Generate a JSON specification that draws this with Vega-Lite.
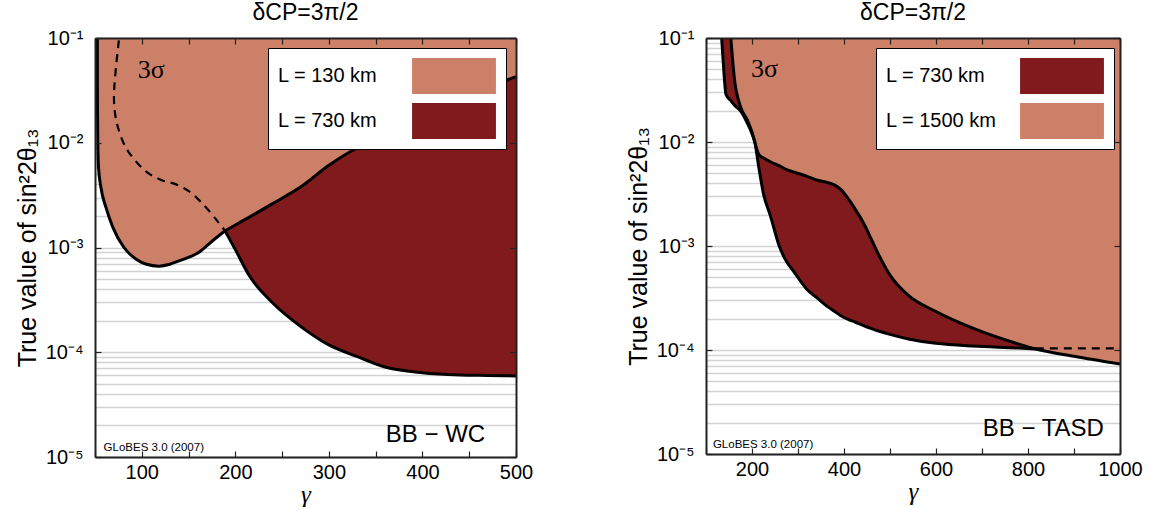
{
  "$schema": "https://vega.github.io/schema/vega-lite/v6.json",
  "background": "white",
  "padding": {"left": 15, "top": 2, "right": 5, "bottom": 0},
  "config": {
    "view": {"stroke": null},
    "font": "Liberation Sans",
    "title": {"font": "Liberation Sans", "fontSize": 23, "fontWeight": "normal", "color": "#000", "anchor": "middle", "offset": 3},
    "legend": {
      "orient": "none", "title": null, "fillColor": "white", "strokeColor": "#000", "padding": 10,
      "symbolType": "M-2.33,-1L2.33,-1L2.33,1L-2.33,1Z", "symbolSize": 1296, "symbolStrokeWidth": 0, "symbolOpacity": 1,
      "labelFont": "Liberation Sans", "labelFontSize": 20, "labelColor": "#000", "labelOffset": -194, "symbolOffset": 158,
      "rowPadding": 9, "labelLimit": 300
    }
  },
  "spacing": 93,
  "resolve": {"scale": {"x": "independent", "y": "independent", "color": "independent"}, "legend": {"color": "independent"}},
  "datasets": {
    "l_light": [
      {"g": 52.5, "lo": 0.1, "hi": 0.1, "series": "L = 130 km"},
      {"g": 52.6, "lo": 0.02512, "hi": 0.1, "series": "L = 130 km"},
      {"g": 53.0, "lo": 0.01, "hi": 0.1, "series": "L = 130 km"},
      {"g": 53.8, "lo": 0.005754, "hi": 0.1, "series": "L = 130 km"},
      {"g": 56.4, "lo": 0.003715, "hi": 0.1, "series": "L = 130 km"},
      {"g": 61.8, "lo": 0.002399, "hi": 0.1, "series": "L = 130 km"},
      {"g": 69.2, "lo": 0.001549, "hi": 0.1, "series": "L = 130 km"},
      {"g": 81, "lo": 0.001, "hi": 0.1, "series": "L = 130 km"},
      {"g": 94.4, "lo": 0.000769, "hi": 0.1, "series": "L = 130 km"},
      {"g": 105, "lo": 0.000692, "hi": 0.1, "series": "L = 130 km"},
      {"g": 118.4, "lo": 0.000664, "hi": 0.1, "series": "L = 130 km"},
      {"g": 130, "lo": 0.000692, "hi": 0.1, "series": "L = 130 km"},
      {"g": 139.8, "lo": 0.000745, "hi": 0.1, "series": "L = 130 km"},
      {"g": 161.2, "lo": 0.000902, "hi": 0.1, "series": "L = 130 km"},
      {"g": 176.1, "lo": 0.001167, "hi": 0.1, "series": "L = 130 km"},
      {"g": 189, "lo": 0.001445, "hi": 0.1, "series": "L = 130 km"},
      {"g": 200, "lo": 0.001641, "hi": 0.1, "series": "L = 130 km"},
      {"g": 215, "lo": 0.00195, "hi": 0.1, "series": "L = 130 km"},
      {"g": 240, "lo": 0.00263, "hi": 0.1, "series": "L = 130 km"},
      {"g": 270, "lo": 0.0038, "hi": 0.1, "series": "L = 130 km"},
      {"g": 300, "lo": 0.0061, "hi": 0.1, "series": "L = 130 km"},
      {"g": 330, "lo": 0.00891, "hi": 0.1, "series": "L = 130 km"},
      {"g": 360, "lo": 0.01161, "hi": 0.1, "series": "L = 130 km"},
      {"g": 400, "lo": 0.01778, "hi": 0.1, "series": "L = 130 km"},
      {"g": 440, "lo": 0.026, "hi": 0.1, "series": "L = 130 km"},
      {"g": 470, "lo": 0.0339, "hi": 0.1, "series": "L = 130 km"},
      {"g": 500, "lo": 0.04266, "hi": 0.1, "series": "L = 130 km"}
    ],
    "l_dark": [
      {"g": 189, "lo": 0.001445, "hi": 0.001445, "series": "L = 730 km"},
      {"g": 200, "lo": 0.000955, "hi": 0.001641, "series": "L = 730 km"},
      {"g": 215, "lo": 0.000537, "hi": 0.00195, "series": "L = 730 km"},
      {"g": 240, "lo": 0.000295, "hi": 0.00263, "series": "L = 730 km"},
      {"g": 270, "lo": 0.0001758, "hi": 0.0038, "series": "L = 730 km"},
      {"g": 300, "lo": 0.0001175, "hi": 0.0061, "series": "L = 730 km"},
      {"g": 330, "lo": 0.0000912, "hi": 0.00891, "series": "L = 730 km"},
      {"g": 360, "lo": 0.0000724, "hi": 0.01161, "series": "L = 730 km"},
      {"g": 400, "lo": 0.0000638, "hi": 0.01778, "series": "L = 730 km"},
      {"g": 440, "lo": 0.0000607, "hi": 0.026, "series": "L = 730 km"},
      {"g": 470, "lo": 0.00006, "hi": 0.0339, "series": "L = 730 km"},
      {"g": 500, "lo": 0.0000594, "hi": 0.04266, "series": "L = 730 km"}
    ],
    "l_lines": [
      {"curve": "light", "g": 52.5, "y": 0.1},
      {"curve": "light", "g": 52.6, "y": 0.02512},
      {"curve": "light", "g": 53.0, "y": 0.01},
      {"curve": "light", "g": 53.8, "y": 0.005754},
      {"curve": "light", "g": 56.4, "y": 0.003715},
      {"curve": "light", "g": 61.8, "y": 0.002399},
      {"curve": "light", "g": 69.2, "y": 0.001549},
      {"curve": "light", "g": 81, "y": 0.001},
      {"curve": "light", "g": 94.4, "y": 0.000769},
      {"curve": "light", "g": 105, "y": 0.000692},
      {"curve": "light", "g": 118.4, "y": 0.000664},
      {"curve": "light", "g": 130, "y": 0.000692},
      {"curve": "light", "g": 139.8, "y": 0.000745},
      {"curve": "light", "g": 161.2, "y": 0.000902},
      {"curve": "light", "g": 176.1, "y": 0.001167},
      {"curve": "light", "g": 189, "y": 0.001445},
      {"curve": "lower", "g": 189, "y": 0.001445},
      {"curve": "lower", "g": 200, "y": 0.000955},
      {"curve": "lower", "g": 215, "y": 0.000537},
      {"curve": "lower", "g": 240, "y": 0.000295},
      {"curve": "lower", "g": 270, "y": 0.0001758},
      {"curve": "lower", "g": 300, "y": 0.0001175},
      {"curve": "lower", "g": 330, "y": 0.0000912},
      {"curve": "lower", "g": 360, "y": 0.0000724},
      {"curve": "lower", "g": 400, "y": 0.0000638},
      {"curve": "lower", "g": 440, "y": 0.0000607},
      {"curve": "lower", "g": 470, "y": 0.00006},
      {"curve": "lower", "g": 500, "y": 0.0000594},
      {"curve": "upper", "g": 189, "y": 0.001445},
      {"curve": "upper", "g": 200, "y": 0.001641},
      {"curve": "upper", "g": 215, "y": 0.00195},
      {"curve": "upper", "g": 240, "y": 0.00263},
      {"curve": "upper", "g": 270, "y": 0.0038},
      {"curve": "upper", "g": 300, "y": 0.0061},
      {"curve": "upper", "g": 330, "y": 0.00891},
      {"curve": "upper", "g": 360, "y": 0.01161},
      {"curve": "upper", "g": 400, "y": 0.01778},
      {"curve": "upper", "g": 440, "y": 0.026},
      {"curve": "upper", "g": 470, "y": 0.0339},
      {"curve": "upper", "g": 500, "y": 0.04266}
    ],
    "l_dash": [
      {"o": 1, "g": 75.5, "y": 0.095},
      {"o": 2, "g": 71.4, "y": 0.0416},
      {"o": 3, "g": 70.3, "y": 0.0251},
      {"o": 4, "g": 73.5, "y": 0.01517},
      {"o": 5, "g": 83.1, "y": 0.00895},
      {"o": 6, "g": 96, "y": 0.00631},
      {"o": 7, "g": 107.7, "y": 0.00507},
      {"o": 8, "g": 122.7, "y": 0.004345},
      {"o": 9, "g": 134.4, "y": 0.004074},
      {"o": 10, "g": 149.4, "y": 0.00349},
      {"o": 11, "g": 165, "y": 0.002624},
      {"o": 12, "g": 180.4, "y": 0.001807},
      {"o": 13, "g": 189, "y": 0.001445}
    ],
    "l_sigma": [{"g": 110, "y": 0.049, "label": "3σ"}],
    "l_bb": [{"g": 467, "y": 0.0000139, "label": "BB − WC"}],
    "l_globes": [{"g": 59.2, "y": 0.0000115, "label": "GLoBES 3.0 (2007)"}],
    "r_light": [
      {"g": 154, "lo": 0.1, "hi": 0.1, "series": "L = 1500 km"},
      {"g": 161.5, "lo": 0.0415, "hi": 0.1, "series": "L = 1500 km"},
      {"g": 175, "lo": 0.02188, "hi": 0.1, "series": "L = 1500 km"},
      {"g": 190, "lo": 0.01622, "hi": 0.1, "series": "L = 1500 km"},
      {"g": 200, "lo": 0.01245, "hi": 0.1, "series": "L = 1500 km"},
      {"g": 206, "lo": 0.01, "hi": 0.1, "series": "L = 1500 km"},
      {"g": 215, "lo": 0.007586, "hi": 0.1, "series": "L = 1500 km"},
      {"g": 225, "lo": 0.007, "hi": 0.1, "series": "L = 1500 km"},
      {"g": 240, "lo": 0.006457, "hi": 0.1, "series": "L = 1500 km"},
      {"g": 260, "lo": 0.005888, "hi": 0.1, "series": "L = 1500 km"},
      {"g": 275, "lo": 0.00543, "hi": 0.1, "series": "L = 1500 km"},
      {"g": 290, "lo": 0.005152, "hi": 0.1, "series": "L = 1500 km"},
      {"g": 320, "lo": 0.004677, "hi": 0.1, "series": "L = 1500 km"},
      {"g": 340, "lo": 0.004315, "hi": 0.1, "series": "L = 1500 km"},
      {"g": 365, "lo": 0.004074, "hi": 0.1, "series": "L = 1500 km"},
      {"g": 380, "lo": 0.003846, "hi": 0.1, "series": "L = 1500 km"},
      {"g": 395, "lo": 0.003428, "hi": 0.1, "series": "L = 1500 km"},
      {"g": 410, "lo": 0.002818, "hi": 0.1, "series": "L = 1500 km"},
      {"g": 425, "lo": 0.002239, "hi": 0.1, "series": "L = 1500 km"},
      {"g": 445, "lo": 0.001585, "hi": 0.1, "series": "L = 1500 km"},
      {"g": 460, "lo": 0.001148, "hi": 0.1, "series": "L = 1500 km"},
      {"g": 475, "lo": 0.000832, "hi": 0.1, "series": "L = 1500 km"},
      {"g": 500, "lo": 0.000525, "hi": 0.1, "series": "L = 1500 km"},
      {"g": 540, "lo": 0.000335, "hi": 0.1, "series": "L = 1500 km"},
      {"g": 600, "lo": 0.0002344, "hi": 0.1, "series": "L = 1500 km"},
      {"g": 680, "lo": 0.0001622, "hi": 0.1, "series": "L = 1500 km"},
      {"g": 780, "lo": 0.000114, "hi": 0.1, "series": "L = 1500 km"},
      {"g": 817, "lo": 0.0001023, "hi": 0.1, "series": "L = 1500 km"},
      {"g": 900, "lo": 0.0000871, "hi": 0.1, "series": "L = 1500 km"},
      {"g": 1000, "lo": 0.0000733, "hi": 0.1, "series": "L = 1500 km"}
    ],
    "r_dark": [
      {"g": 134, "lo": 0.1, "hi": 0.1, "series": "L = 730 km"},
      {"g": 137, "lo": 0.0631, "hi": 0.1, "series": "L = 730 km"},
      {"g": 139.8, "lo": 0.0415, "hi": 0.1, "series": "L = 730 km"},
      {"g": 143.5, "lo": 0.02864, "hi": 0.1, "series": "L = 730 km"},
      {"g": 154, "lo": 0.025, "hi": 0.1, "series": "L = 730 km"},
      {"g": 161.5, "lo": 0.0227, "hi": 0.0415, "series": "L = 730 km"},
      {"g": 175, "lo": 0.01995, "hi": 0.02188, "series": "L = 730 km"},
      {"g": 190, "lo": 0.01514, "hi": 0.01622, "series": "L = 730 km"},
      {"g": 200, "lo": 0.01202, "hi": 0.01245, "series": "L = 730 km"},
      {"g": 206, "lo": 0.01, "hi": 0.01, "series": "L = 730 km"},
      {"g": 215, "lo": 0.005623, "hi": 0.007586, "series": "L = 730 km"},
      {"g": 225, "lo": 0.003162, "hi": 0.007, "series": "L = 730 km"},
      {"g": 240, "lo": 0.00195, "hi": 0.006457, "series": "L = 730 km"},
      {"g": 260, "lo": 0.000977, "hi": 0.005888, "series": "L = 730 km"},
      {"g": 275, "lo": 0.000708, "hi": 0.00543, "series": "L = 730 km"},
      {"g": 290, "lo": 0.000575, "hi": 0.005152, "series": "L = 730 km"},
      {"g": 320, "lo": 0.00038, "hi": 0.004677, "series": "L = 730 km"},
      {"g": 340, "lo": 0.000321, "hi": 0.004315, "series": "L = 730 km"},
      {"g": 365, "lo": 0.00026, "hi": 0.004074, "series": "L = 730 km"},
      {"g": 380, "lo": 0.0002344, "hi": 0.003846, "series": "L = 730 km"},
      {"g": 395, "lo": 0.0002113, "hi": 0.003428, "series": "L = 730 km"},
      {"g": 410, "lo": 0.0001963, "hi": 0.002818, "series": "L = 730 km"},
      {"g": 425, "lo": 0.0001849, "hi": 0.002239, "series": "L = 730 km"},
      {"g": 445, "lo": 0.00017, "hi": 0.001585, "series": "L = 730 km"},
      {"g": 460, "lo": 0.0001607, "hi": 0.001148, "series": "L = 730 km"},
      {"g": 475, "lo": 0.0001524, "hi": 0.000832, "series": "L = 730 km"},
      {"g": 500, "lo": 0.0001413, "hi": 0.000525, "series": "L = 730 km"},
      {"g": 540, "lo": 0.0001276, "hi": 0.000335, "series": "L = 730 km"},
      {"g": 600, "lo": 0.0001161, "hi": 0.0002344, "series": "L = 730 km"},
      {"g": 680, "lo": 0.0001091, "hi": 0.0001622, "series": "L = 730 km"},
      {"g": 780, "lo": 0.0001045, "hi": 0.000114, "series": "L = 730 km"},
      {"g": 817, "lo": 0.0001023, "hi": 0.0001023, "series": "L = 730 km"}
    ],
    "r_lines": [
      {"curve": "outer", "g": 134, "y": 0.1},
      {"curve": "outer", "g": 137, "y": 0.0631},
      {"curve": "outer", "g": 139.8, "y": 0.0415},
      {"curve": "outer", "g": 143.5, "y": 0.02864},
      {"curve": "outer", "g": 154, "y": 0.025},
      {"curve": "outer", "g": 161.5, "y": 0.0227},
      {"curve": "outer", "g": 175, "y": 0.01995},
      {"curve": "outer", "g": 190, "y": 0.01514},
      {"curve": "outer", "g": 200, "y": 0.01202},
      {"curve": "outer", "g": 206, "y": 0.01},
      {"curve": "outer", "g": 215, "y": 0.005623},
      {"curve": "outer", "g": 225, "y": 0.003162},
      {"curve": "outer", "g": 240, "y": 0.00195},
      {"curve": "outer", "g": 260, "y": 0.000977},
      {"curve": "outer", "g": 275, "y": 0.000708},
      {"curve": "outer", "g": 290, "y": 0.000575},
      {"curve": "outer", "g": 320, "y": 0.00038},
      {"curve": "outer", "g": 340, "y": 0.000321},
      {"curve": "outer", "g": 365, "y": 0.00026},
      {"curve": "outer", "g": 380, "y": 0.0002344},
      {"curve": "outer", "g": 395, "y": 0.0002113},
      {"curve": "outer", "g": 410, "y": 0.0001963},
      {"curve": "outer", "g": 425, "y": 0.0001849},
      {"curve": "outer", "g": 445, "y": 0.00017},
      {"curve": "outer", "g": 460, "y": 0.0001607},
      {"curve": "outer", "g": 475, "y": 0.0001524},
      {"curve": "outer", "g": 500, "y": 0.0001413},
      {"curve": "outer", "g": 540, "y": 0.0001276},
      {"curve": "outer", "g": 600, "y": 0.0001161},
      {"curve": "outer", "g": 680, "y": 0.0001091},
      {"curve": "outer", "g": 780, "y": 0.0001045},
      {"curve": "outer", "g": 817, "y": 0.0001023},
      {"curve": "inner", "g": 154, "y": 0.1},
      {"curve": "inner", "g": 161.5, "y": 0.0415},
      {"curve": "inner", "g": 175, "y": 0.02188},
      {"curve": "inner", "g": 190, "y": 0.01622},
      {"curve": "inner", "g": 200, "y": 0.01245},
      {"curve": "inner", "g": 206, "y": 0.01},
      {"curve": "inner", "g": 215, "y": 0.007586},
      {"curve": "inner", "g": 225, "y": 0.007},
      {"curve": "inner", "g": 240, "y": 0.006457},
      {"curve": "inner", "g": 260, "y": 0.005888},
      {"curve": "inner", "g": 275, "y": 0.00543},
      {"curve": "inner", "g": 290, "y": 0.005152},
      {"curve": "inner", "g": 320, "y": 0.004677},
      {"curve": "inner", "g": 340, "y": 0.004315},
      {"curve": "inner", "g": 365, "y": 0.004074},
      {"curve": "inner", "g": 380, "y": 0.003846},
      {"curve": "inner", "g": 395, "y": 0.003428},
      {"curve": "inner", "g": 410, "y": 0.002818},
      {"curve": "inner", "g": 425, "y": 0.002239},
      {"curve": "inner", "g": 445, "y": 0.001585},
      {"curve": "inner", "g": 460, "y": 0.001148},
      {"curve": "inner", "g": 475, "y": 0.000832},
      {"curve": "inner", "g": 500, "y": 0.000525},
      {"curve": "inner", "g": 540, "y": 0.000335},
      {"curve": "inner", "g": 600, "y": 0.0002344},
      {"curve": "inner", "g": 680, "y": 0.0001622},
      {"curve": "inner", "g": 780, "y": 0.000114},
      {"curve": "inner", "g": 817, "y": 0.0001023},
      {"curve": "inner", "g": 900, "y": 0.0000871},
      {"curve": "inner", "g": 1000, "y": 0.0000733}
    ],
    "r_dash": [
      {"o": 1, "g": 817, "y": 0.0001035},
      {"o": 2, "g": 1000, "y": 0.0001035}
    ],
    "r_sigma": [{"g": 227, "y": 0.0507, "label": "3σ"}],
    "r_bb": [{"g": 965, "y": 0.0000148, "label": "BB − TASD"}],
    "r_globes": [{"g": 115, "y": 0.0000113, "label": "GLoBES 3.0 (2007)"}]
  },
  "hconcat": [
    {
      "width": 421,
      "height": 419,
      "title": {"text": "δCP=3π/2"},
      "resolve": {"axis": {"x": "independent", "y": "independent"}},
      "layer": [
        {
          "data": {"name": "l_light"},
          "mark": {"type": "area", "clip": true, "opacity": 1, "interpolate": "monotone"},
          "encoding": {
            "x": {"field": "g", "type": "quantitative", "scale": {"domain": [50, 500], "nice": false, "zero": false}, "axis": null},
            "y": {"field": "lo", "type": "quantitative", "scale": {"type": "log", "domain": [0.00001, 0.1], "nice": false},
              "axis": {"orient": "left", "values": [0.00001,0.00002,0.00003,0.00004,0.00005,0.00006,0.00007,0.00008,0.00009,0.0001,0.0002,0.0003,0.0004,0.0005,0.0006,0.0007,0.0008,0.0009,0.001,0.002,0.003,0.004,0.005,0.006,0.007,0.008,0.009,0.01,0.02,0.03,0.04,0.05,0.06,0.07,0.08,0.09,0.1],
                "grid": true, "gridColor": "#d2d2d2", "gridWidth": 1.5, "labels": false, "ticks": false, "domain": false, "title": null, "zindex": 0}},
            "y2": {"field": "hi"},
            "color": {"field": "series", "type": "nominal", "scale": {"domain": ["L = 130 km", "L = 730 km"], "range": ["#CD8068", "#801A1D"]},
              "legend": {"legendX": 173, "legendY": 10}}
          }
        },
        {
          "data": {"name": "l_dark"},
          "mark": {"type": "area", "clip": true, "opacity": 1, "interpolate": "monotone"},
          "encoding": {
            "x": {"field": "g", "type": "quantitative", "scale": {"domain": [50, 500], "nice": false, "zero": false}, "axis": null},
            "y": {"field": "lo", "type": "quantitative", "scale": {"type": "log", "domain": [0.00001, 0.1], "nice": false}, "axis": null},
            "y2": {"field": "hi"},
            "color": {"field": "series", "type": "nominal"}
          }
        },
        {
          "data": {"name": "l_lines"},
          "mark": {"type": "line", "color": "#000", "strokeWidth": 3, "clip": true, "interpolate": "monotone"},
          "encoding": {
            "x": {"field": "g", "type": "quantitative", "scale": {"domain": [50, 500], "nice": false, "zero": false}, "axis": null},
            "y": {"field": "y", "type": "quantitative", "scale": {"type": "log", "domain": [0.00001, 0.1], "nice": false}, "axis": null},
            "detail": {"field": "curve", "type": "nominal"}
          }
        },
        {
          "data": {"name": "l_dash"},
          "mark": {"type": "line", "color": "#000", "strokeWidth": 2.2, "strokeDash": [8, 6], "clip": true, "interpolate": "catmull-rom"},
          "encoding": {
            "x": {"field": "g", "type": "quantitative", "scale": {"domain": [50, 500], "nice": false, "zero": false}, "axis": null},
            "y": {"field": "y", "type": "quantitative", "scale": {"type": "log", "domain": [0.00001, 0.1], "nice": false}, "axis": null},
            "order": {"field": "o", "type": "quantitative"}
          }
        },
        {
          "data": {"name": "l_sigma"},
          "mark": {"type": "text", "font": "Liberation Serif", "fontSize": 26, "align": "center", "baseline": "middle", "color": "#000"},
          "encoding": {
            "x": {"field": "g", "type": "quantitative", "scale": {"domain": [50, 500], "nice": false, "zero": false}, "axis": null},
            "y": {"field": "y", "type": "quantitative", "scale": {"type": "log", "domain": [0.00001, 0.1], "nice": false}, "axis": null},
            "text": {"field": "label"}
          }
        },
        {
          "data": {"name": "l_bb"},
          "mark": {"type": "text", "font": "Liberation Sans", "fontSize": 24, "align": "right", "baseline": "alphabetic", "color": "#000"},
          "encoding": {
            "x": {"field": "g", "type": "quantitative", "scale": {"domain": [50, 500], "nice": false, "zero": false},
              "axis": {"orient": "bottom", "values": [50,100,150,200,250,300,350,400,450,500], "labelExpr": "datum.value % 100 === 0 ? format(datum.value, 'd') : ''",
                "grid": false, "labelFont": "Liberation Sans", "labelFontSize": 20, "labelColor": "#000", "labelPadding": 11, "labelFlush": false, "labelOverlap": false,
                "tickSize": -6, "tickColor": "#222", "tickWidth": 1.2, "domain": true, "domainColor": "#222", "domainWidth": 2,
                "title": "γ", "titleFont": "Liberation Serif", "titleFontStyle": "italic", "titleFontSize": 25, "titleFontWeight": "normal", "titleColor": "#000", "titlePadding": 0, "zindex": 1}},
            "y": {"field": "y", "type": "quantitative", "scale": {"type": "log", "domain": [0.00001, 0.1], "nice": false},
              "axis": {"orient": "left", "values": [0.00001, 0.0001, 0.001, 0.01, 0.1],
                "labelExpr": "datum.value > 0.05 ? '10⁻¹' : datum.value > 0.005 ? '10⁻²' : datum.value > 0.0005 ? '10⁻³' : datum.value > 0.00005 ? '10⁻⁴' : '10⁻⁵'",
                "grid": false, "labelFont": "Liberation Sans", "labelFontSize": 20, "labelColor": "#000", "labelPadding": 18, "labelFlush": false, "labelOverlap": false,
                "tickSize": -6, "tickColor": "#222", "tickWidth": 1.2, "domain": true, "domainColor": "#222", "domainWidth": 2,
                "title": "True value of sin²2θ₁₃", "titleFont": "Liberation Sans", "titleFontSize": 25, "titleFontWeight": "normal", "titleColor": "#000", "titlePadding": 5, "zindex": 1}},
            "text": {"field": "label"}
          }
        },
        {
          "data": {"name": "l_globes"},
          "mark": {"type": "text", "font": "Liberation Sans", "fontSize": 11.5, "align": "left", "baseline": "alphabetic", "color": "#000"},
          "encoding": {
            "x": {"field": "g", "type": "quantitative", "scale": {"domain": [50, 500], "nice": false, "zero": false},
              "axis": {"orient": "top", "values": [50,100,150,200,250,300,350,400,450,500], "labels": false, "grid": false,
                "tickSize": -6, "tickColor": "#222", "tickWidth": 1.2, "domain": true, "domainColor": "#222", "domainWidth": 2, "title": null, "zindex": 1}},
            "y": {"field": "y", "type": "quantitative", "scale": {"type": "log", "domain": [0.00001, 0.1], "nice": false},
              "axis": {"orient": "right", "values": [0.00001, 0.0001, 0.001, 0.01, 0.1], "labels": false, "grid": false,
                "tickSize": -6, "tickColor": "#222", "tickWidth": 1.2, "domain": true, "domainColor": "#222", "domainWidth": 2, "title": null, "zindex": 1}},
            "text": {"field": "label"}
          }
        }
      ]
    },
    {
      "width": 414,
      "height": 416,
      "title": {"text": "δCP=3π/2"},
      "resolve": {"axis": {"x": "independent", "y": "independent"}},
      "layer": [
        {
          "data": {"name": "r_light"},
          "mark": {"type": "area", "clip": true, "opacity": 1, "interpolate": "monotone"},
          "encoding": {
            "x": {"field": "g", "type": "quantitative", "scale": {"domain": [100, 1000], "nice": false, "zero": false}, "axis": null},
            "y": {"field": "lo", "type": "quantitative", "scale": {"type": "log", "domain": [0.00001, 0.1], "nice": false},
              "axis": {"orient": "left", "values": [0.00001,0.00002,0.00003,0.00004,0.00005,0.00006,0.00007,0.00008,0.00009,0.0001,0.0002,0.0003,0.0004,0.0005,0.0006,0.0007,0.0008,0.0009,0.001,0.002,0.003,0.004,0.005,0.006,0.007,0.008,0.009,0.01,0.02,0.03,0.04,0.05,0.06,0.07,0.08,0.09,0.1],
                "grid": true, "gridColor": "#d2d2d2", "gridWidth": 1.5, "labels": false, "ticks": false, "domain": false, "title": null, "zindex": 0}},
            "y2": {"field": "hi"},
            "color": {"field": "series", "type": "nominal", "scale": {"domain": ["L = 730 km", "L = 1500 km"], "range": ["#801A1D", "#CD8068"]},
              "legend": {"legendX": 170, "legendY": 10}}
          }
        },
        {
          "data": {"name": "r_dark"},
          "mark": {"type": "area", "clip": true, "opacity": 1, "interpolate": "monotone"},
          "encoding": {
            "x": {"field": "g", "type": "quantitative", "scale": {"domain": [100, 1000], "nice": false, "zero": false}, "axis": null},
            "y": {"field": "lo", "type": "quantitative", "scale": {"type": "log", "domain": [0.00001, 0.1], "nice": false}, "axis": null},
            "y2": {"field": "hi"},
            "color": {"field": "series", "type": "nominal"}
          }
        },
        {
          "data": {"name": "r_lines"},
          "mark": {"type": "line", "color": "#000", "strokeWidth": 3, "clip": true, "interpolate": "monotone"},
          "encoding": {
            "x": {"field": "g", "type": "quantitative", "scale": {"domain": [100, 1000], "nice": false, "zero": false}, "axis": null},
            "y": {"field": "y", "type": "quantitative", "scale": {"type": "log", "domain": [0.00001, 0.1], "nice": false}, "axis": null},
            "detail": {"field": "curve", "type": "nominal"}
          }
        },
        {
          "data": {"name": "r_dash"},
          "mark": {"type": "line", "color": "#000", "strokeWidth": 2.2, "strokeDash": [8, 6], "clip": true},
          "encoding": {
            "x": {"field": "g", "type": "quantitative", "scale": {"domain": [100, 1000], "nice": false, "zero": false}, "axis": null},
            "y": {"field": "y", "type": "quantitative", "scale": {"type": "log", "domain": [0.00001, 0.1], "nice": false}, "axis": null},
            "order": {"field": "o", "type": "quantitative"}
          }
        },
        {
          "data": {"name": "r_sigma"},
          "mark": {"type": "text", "font": "Liberation Serif", "fontSize": 26, "align": "center", "baseline": "middle", "color": "#000"},
          "encoding": {
            "x": {"field": "g", "type": "quantitative", "scale": {"domain": [100, 1000], "nice": false, "zero": false}, "axis": null},
            "y": {"field": "y", "type": "quantitative", "scale": {"type": "log", "domain": [0.00001, 0.1], "nice": false}, "axis": null},
            "text": {"field": "label"}
          }
        },
        {
          "data": {"name": "r_bb"},
          "mark": {"type": "text", "font": "Liberation Sans", "fontSize": 24, "align": "right", "baseline": "alphabetic", "color": "#000"},
          "encoding": {
            "x": {"field": "g", "type": "quantitative", "scale": {"domain": [100, 1000], "nice": false, "zero": false},
              "axis": {"orient": "bottom", "values": [100,200,300,400,500,600,700,800,900,1000], "labelExpr": "datum.value % 200 === 0 ? format(datum.value, 'd') : ''",
                "grid": false, "labelFont": "Liberation Sans", "labelFontSize": 20, "labelColor": "#000", "labelPadding": 11, "labelFlush": false, "labelOverlap": false,
                "tickSize": -6, "tickColor": "#222", "tickWidth": 1.2, "domain": true, "domainColor": "#222", "domainWidth": 2,
                "title": "γ", "titleFont": "Liberation Serif", "titleFontStyle": "italic", "titleFontSize": 25, "titleFontWeight": "normal", "titleColor": "#000", "titlePadding": 0, "zindex": 1}},
            "y": {"field": "y", "type": "quantitative", "scale": {"type": "log", "domain": [0.00001, 0.1], "nice": false},
              "axis": {"orient": "left", "values": [0.00001, 0.0001, 0.001, 0.01, 0.1],
                "labelExpr": "datum.value > 0.05 ? '10⁻¹' : datum.value > 0.005 ? '10⁻²' : datum.value > 0.0005 ? '10⁻³' : datum.value > 0.00005 ? '10⁻⁴' : '10⁻⁵'",
                "grid": false, "labelFont": "Liberation Sans", "labelFontSize": 20, "labelColor": "#000", "labelPadding": 18, "labelFlush": false, "labelOverlap": false,
                "tickSize": -6, "tickColor": "#222", "tickWidth": 1.2, "domain": true, "domainColor": "#222", "domainWidth": 2,
                "title": "True value of sin²2θ₁₃", "titleFont": "Liberation Sans", "titleFontSize": 25, "titleFontWeight": "normal", "titleColor": "#000", "titlePadding": 5, "zindex": 1}},
            "text": {"field": "label"}
          }
        },
        {
          "data": {"name": "r_globes"},
          "mark": {"type": "text", "font": "Liberation Sans", "fontSize": 11.5, "align": "left", "baseline": "alphabetic", "color": "#000"},
          "encoding": {
            "x": {"field": "g", "type": "quantitative", "scale": {"domain": [100, 1000], "nice": false, "zero": false},
              "axis": {"orient": "top", "values": [100,200,300,400,500,600,700,800,900,1000], "labels": false, "grid": false,
                "tickSize": -6, "tickColor": "#222", "tickWidth": 1.2, "domain": true, "domainColor": "#222", "domainWidth": 2, "title": null, "zindex": 1}},
            "y": {"field": "y", "type": "quantitative", "scale": {"type": "log", "domain": [0.00001, 0.1], "nice": false},
              "axis": {"orient": "right", "values": [0.00001, 0.0001, 0.001, 0.01, 0.1], "labels": false, "grid": false,
                "tickSize": -6, "tickColor": "#222", "tickWidth": 1.2, "domain": true, "domainColor": "#222", "domainWidth": 2, "title": null, "zindex": 1}},
            "text": {"field": "label"}
          }
        }
      ]
    }
  ]
}
